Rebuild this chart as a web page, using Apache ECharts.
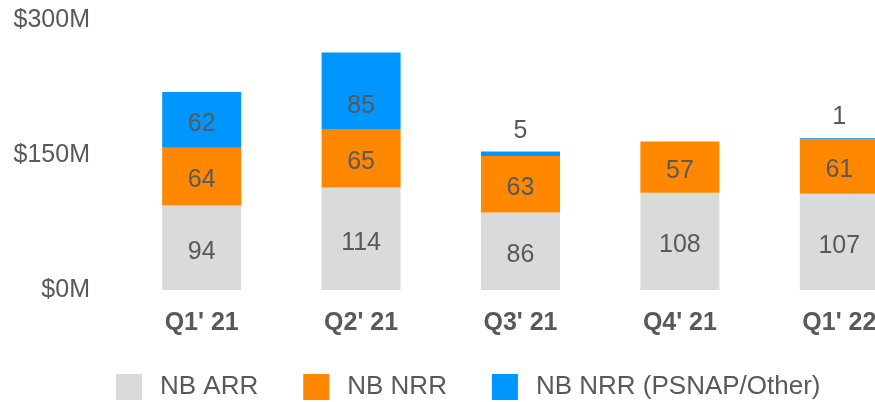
<!DOCTYPE html>
<html>
<head>
<meta charset="utf-8">
<script src="https://cdn.jsdelivr.net/npm/echarts@6/dist/echarts.min.js"></script>
<style>
  html, body { margin: 0; padding: 0; background: #fff; }
  #chart { width: 875px; height: 402px; }
</style>
</head>
<body>
<div id="chart"></div>
<script>
const quarters = ["Q1' 21", "Q2' 21", "Q3' 21", "Q4' 21", "Q1' 22"];
const nbArr = [94, 114, 86, 108, 107];
const nbNrr = [64, 65, 63, 57, 61];
const nbNrrOther = [62, 85, 5, null, 1];
const yTicks = [0, 150, 300];

const textColor = '#595959';
const font = 'Liberation Sans, Arial, sans-serif';
const segLabel = { show: true, position: 'inside', fontSize: 25, color: textColor, fontFamily: font, offset: [0, 4] };

// small segments get their label above the bar; the tall Q2 one sits low in the segment
const otherData = nbNrrOther.map(v => {
  if (v == null) return '-';
  if (v < 10) return { value: v, label: { position: 'top', distance: 8, offset: [0, 0] } };
  if (v > 80) return { value: v, label: { offset: [0, 15] } };
  return v;
});

const chart = echarts.init(document.getElementById('chart'));
chart.setOption({
  animation: false,
  textStyle: { fontFamily: font },
  grid: { left: 122, right: -44, top: 20, bottom: 112, outerBoundsMode: 'none' },
  legend: {
    left: 111, top: 369,
    icon: 'rect', itemWidth: 26, itemHeight: 26, itemGap: 45,
    textStyle: { fontSize: 26, color: textColor, fontFamily: font, padding: [0, 0, 0, 13] },
    data: ['NB ARR', 'NB NRR', 'NB NRR (PSNAP/Other)']
  },
  xAxis: {
    type: 'category',
    data: quarters,
    axisLine: { show: false },
    axisTick: { show: false },
    axisLabel: { fontSize: 25, fontWeight: 'bold', color: textColor, margin: 21, fontFamily: font }
  },
  yAxis: {
    type: 'value',
    min: yTicks[0], max: yTicks[yTicks.length - 1], interval: 150,
    splitLine: { show: false },
    axisLine: { show: false },
    axisTick: { show: false },
    axisLabel: { fontSize: 25, color: textColor, margin: 32, fontFamily: font, formatter: v => '$' + v + 'M' }
  },
  series: [
    { name: 'NB ARR', type: 'bar', stack: 'nb', barWidth: 79, data: nbArr,
      itemStyle: { color: '#D9DADA' }, label: segLabel },
    { name: 'NB NRR', type: 'bar', stack: 'nb', barWidth: 79, data: nbNrr,
      itemStyle: { color: '#FF8800' }, label: segLabel },
    { name: 'NB NRR (PSNAP/Other)', type: 'bar', stack: 'nb', barWidth: 79, data: otherData,
      itemStyle: { color: '#0096FF' }, label: segLabel }
  ]
});
</script>
</body>
</html>
